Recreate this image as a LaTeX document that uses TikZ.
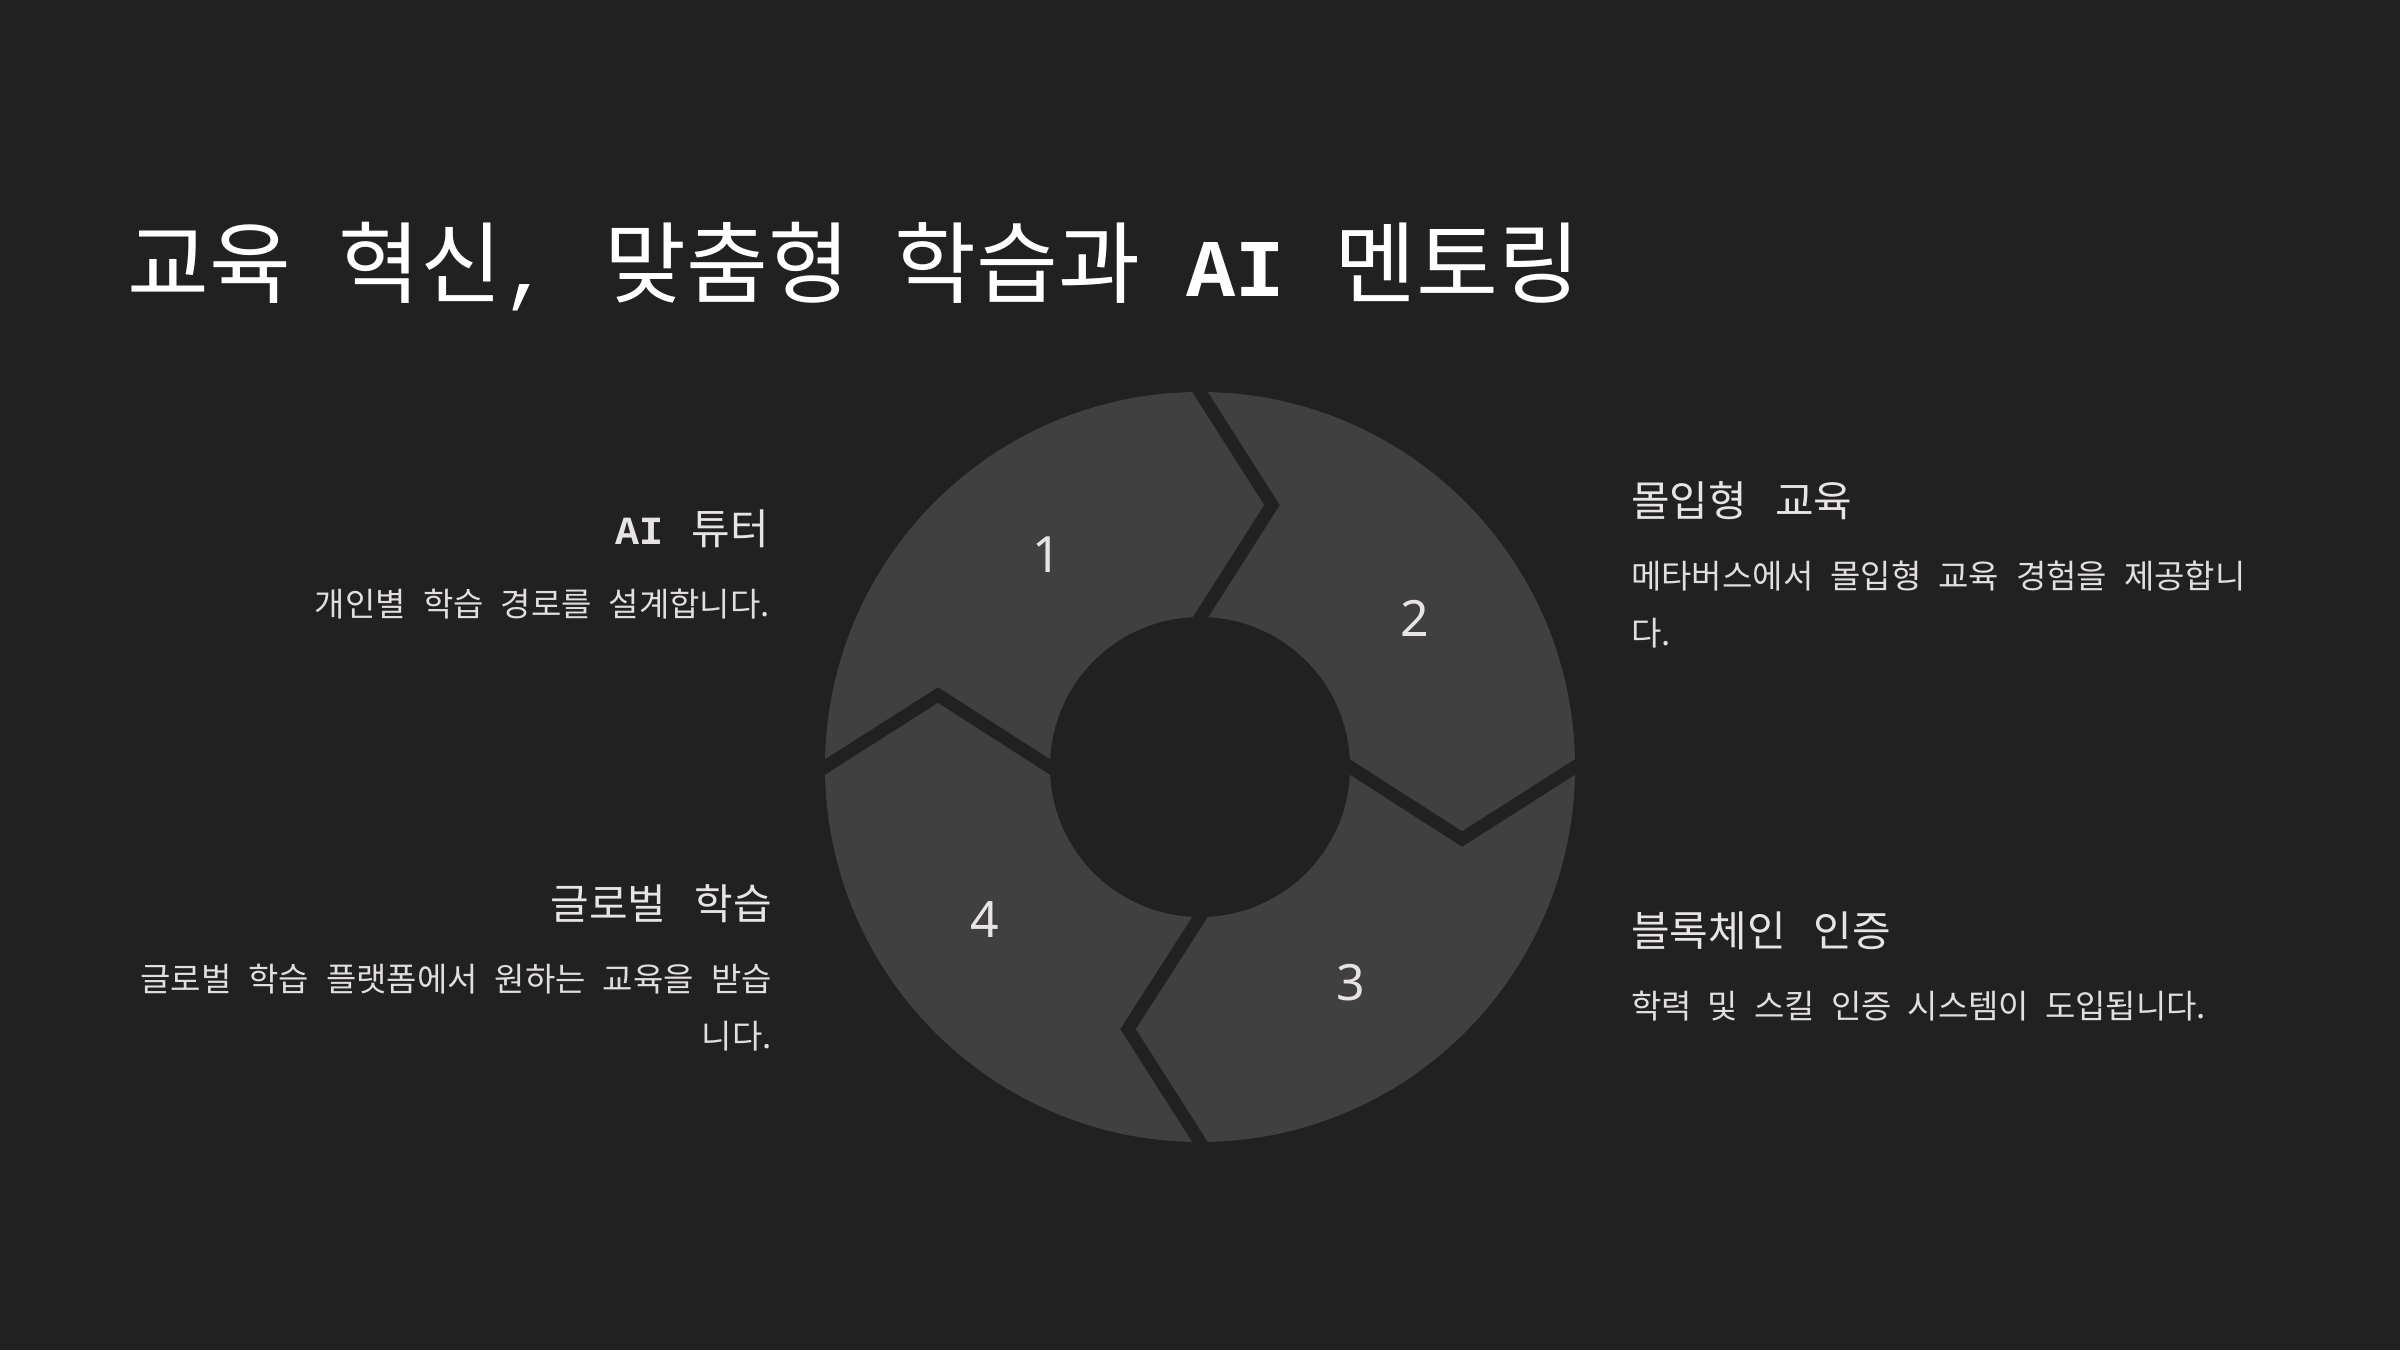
\documentclass[tikz,border=0pt]{standalone}
\usepackage{fontspec}
\newfontfamily\kr{Noto Sans CJK KR}
\newfontfamily\monofam{Liberation Mono}
\newfontfamily\numfam{Noto Sans}
\definecolor{bg}{HTML}{212121}
\definecolor{seg}{HTML}{404040}
\definecolor{txt}{HTML}{E8E4E3}
\definecolor{desccol}{HTML}{E2DEDD}
\begin{document}
\begin{tikzpicture}[x=1pt,y=-1pt,
  titletext/.style={font=\kr\fontsize{89}{100}\selectfont, text=white, inner sep=0pt},
  headtext/.style={font=\kr\fontsize{42}{50}\selectfont, text=txt, inner sep=0pt},
  desctext/.style={font=\kr\fontsize{33}{40}\selectfont, text=desccol, inner sep=0pt},
  numtext/.style={font=\numfam\fontsize{50}{60}\selectfont, text=txt, inner sep=0pt},
  sepline/.style={draw=bg, line width=13pt, shorten <=-14pt, shorten >=-14pt, line join=miter}]
\useasboundingbox (0,0) rectangle (2400,1350);
\fill[bg] (0,0) rectangle (2400,1350);

% title
\node[titletext, anchor=base west] (title) at (127,296)
  {교육\hspace{48pt}혁신{\monofam\fontsize{82}{100}\selectfont ,}\hspace{53pt}맞춤형\hspace{44pt}학습과\hspace{46pt}{\monofam\bfseries\fontsize{82}{100}\selectfont AI}\hspace{50pt}멘토링};

% ring
\coordinate (c) at (1200,767);
\fill[seg] (c) circle (375pt);
\draw[sepline] (1200,392) -- (1272,505) -- (1200,618);
\draw[sepline] (1575,767) -- (1462,839) -- (1350,767);
\draw[sepline] (1200,1142) -- (1128,1029) -- (1200,917);
\draw[sepline] (825,767) -- (938,695) -- (1050,767);
\fill[bg] (c) circle (150pt);

\node[numtext] (n1) at (1047,555) {1};
\node[numtext] (n2) at (1415,618) {2};
\node[numtext] (n3) at (1351,983) {3};
\node[numtext] (n4) at (985,920) {4};

% left top
\node[headtext, anchor=base east] (h1) at (769,544)
  {\spaceskip=28pt\relax{\monofam\bfseries\fontsize{40}{48}\selectfont AI} 튜터};
\node[desctext, anchor=base east] (d1) at (770,616)
  {\spaceskip=17pt\relax 개인별 학습 경로를 설계합니다.};

% right top
\node[headtext, anchor=base west] (h2) at (1631,516)
  {\spaceskip=28pt\relax 몰입형 교육};
\node[desctext, anchor=base west] (d2a) at (1631,588)
  {\spaceskip=17pt\relax 메타버스에서 몰입형 교육 경험을 제공합니};
\node[desctext, anchor=base west] (d2b) at (1631,645) {다.};

% left bottom
\node[headtext, anchor=base east] (h4) at (772,919)
  {\spaceskip=28pt\relax 글로벌 학습};
\node[desctext, anchor=base east] (d4a) at (772,991)
  {\spaceskip=17pt\relax 글로벌 학습 플랫폼에서 원하는 교육을 받습};
\node[desctext, anchor=base east] (d4b) at (772,1048) {니다.};

% right bottom
\node[headtext, anchor=base west] (h3) at (1631,946)
  {\spaceskip=28pt\relax 블록체인 인증};
\node[desctext, anchor=base west] (d3) at (1631,1018)
  {\spaceskip=16pt\relax 학력 및 스킬 인증 시스템이 도입됩니다.};
\end{tikzpicture}
\end{document}
